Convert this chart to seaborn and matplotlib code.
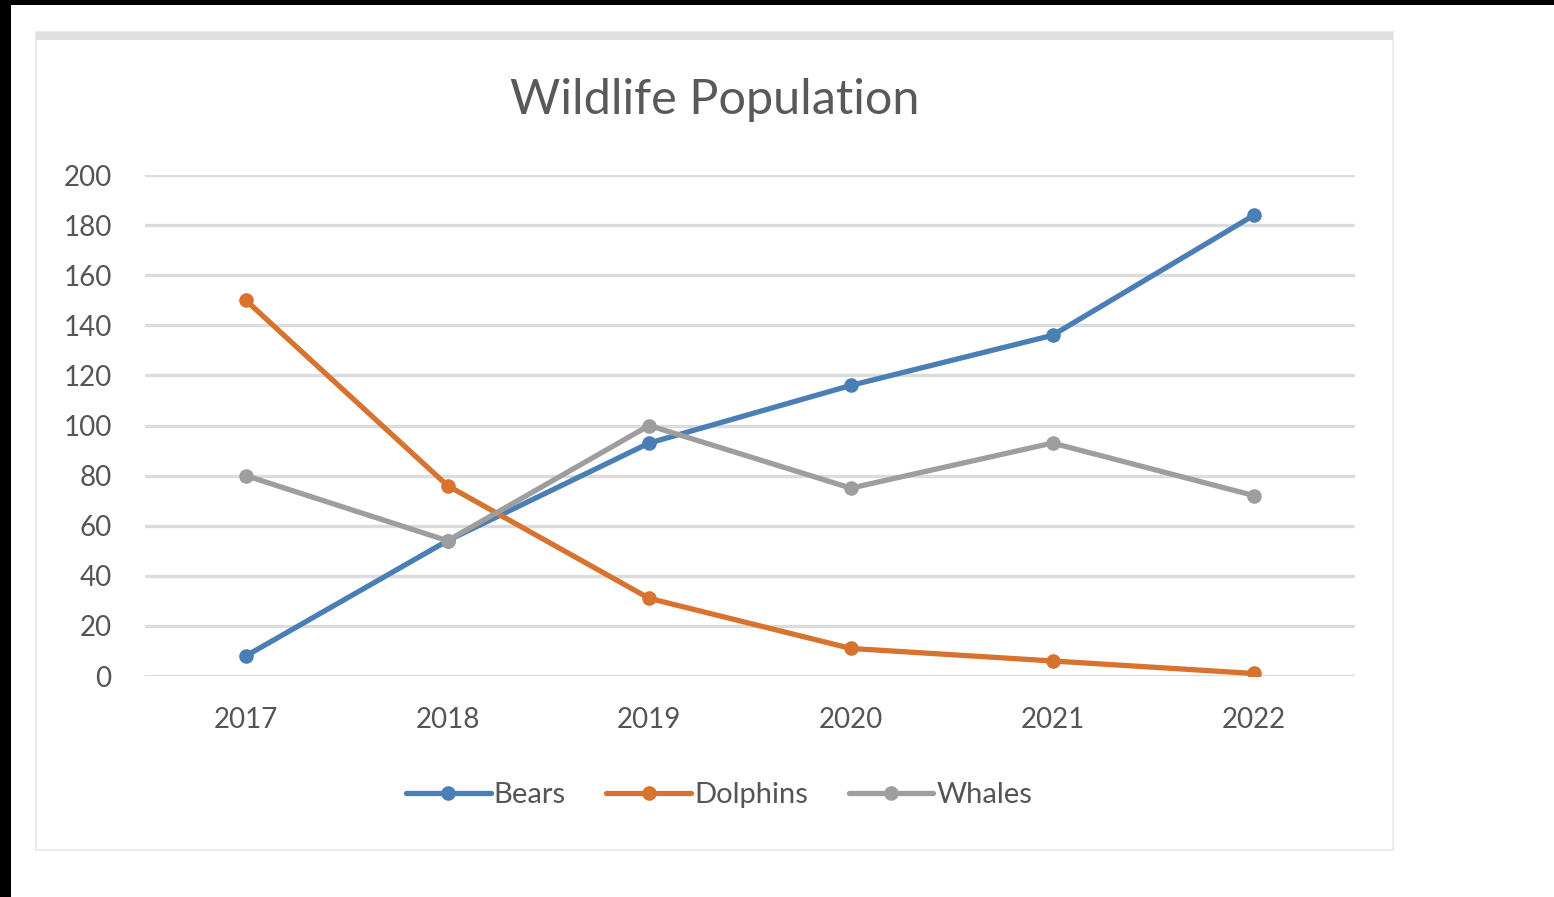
import matplotlib
matplotlib.use("Agg")
import matplotlib.pyplot as plt
from matplotlib.patches import Rectangle
import seaborn as sns
import pandas as pd

years = ["2017", "2018", "2019", "2020", "2021", "2022"]
bears = [8, 54, 93, 116, 136, 184]
dolphins = [150, 76, 31, 11, 6, 1]
whales = [80, 54, 100, 75, 93, 72]
series_names = ["Bears", "Dolphins", "Whales"]
colors = ["#4a7fb6", "#d8732f", "#9e9e9e"]
y_ticks = [0, 20, 40, 60, 80, 100, 120, 140, 160, 180, 200]
title = "Wildlife Population"

df = pd.DataFrame({
    "Year": years * 3,
    "Population": bears + dolphins + whales,
    "Series": [n for n in series_names for _ in years],
})

sns.set_style("white")
plt.rcParams["font.family"] = ["Lato", "DejaVu Sans"]

W, H = 1554, 897
fig = plt.figure(figsize=(W / 100, H / 100), dpi=100, facecolor="white")

# screenshot frame: black strips at top/left, chart box with light border
fig.patches.append(Rectangle((0, 1 - 5 / H), 1, 5 / H, transform=fig.transFigure,
                             facecolor="black", edgecolor="none", zorder=-5))
fig.patches.append(Rectangle((0, 0), 11 / W, 1, transform=fig.transFigure,
                             facecolor="black", edgecolor="none", zorder=-5))
fig.patches.append(Rectangle((36 / W, (H - 850) / H), (1393 - 36) / W, (850 - 32) / H,
                             transform=fig.transFigure, facecolor="white",
                             edgecolor="#ebebeb", linewidth=1.5, zorder=-5))
fig.patches.append(Rectangle((36 / W, (H - 40) / H), (1393 - 36) / W, 8 / H,
                             transform=fig.transFigure, facecolor="#e2e0de",
                             edgecolor="none", zorder=-5))

ax = fig.add_axes([145 / W, (H - 676) / H, (1355 - 145) / W, (676 - 175) / H])
ax.set_facecolor("none")

sns.lineplot(data=df, x="Year", y="Population", hue="Series",
             palette=dict(zip(series_names, colors)), marker="o",
             markersize=10.5, markeredgewidth=0, linewidth=3.8,
             sort=False, ax=ax, legend=False)

ax.set_xlim(-0.5, len(years) - 0.5)
ax.set_ylim(0, 200)
ax.set_yticks(y_ticks)
ax.yaxis.grid(True, color="#dcdcdc", linewidth=2.4)
ax.set_axisbelow(True)
for s in ax.spines.values():
    s.set_visible(False)
ax.set_xlabel("")
ax.set_ylabel("")
ax.tick_params(axis="both", length=0, labelsize=20, labelcolor="#555555")
ax.tick_params(axis="y", pad=24)
ax.tick_params(axis="x", pad=22)

fig.text(715 / W, (H - 100) / H, title, ha="center", va="center",
         fontsize=35, color="#595959")

handles = ax.lines[:3]
fig.legend(handles, series_names, loc="center", bbox_to_anchor=(719 / W, (H - 795) / H),
           ncol=3, frameon=False, fontsize=21, handlelength=2.9,
           handletextpad=0.1, columnspacing=1.4, labelcolor="#555555")

fig.savefig("out.png", dpi=100, facecolor="white")
